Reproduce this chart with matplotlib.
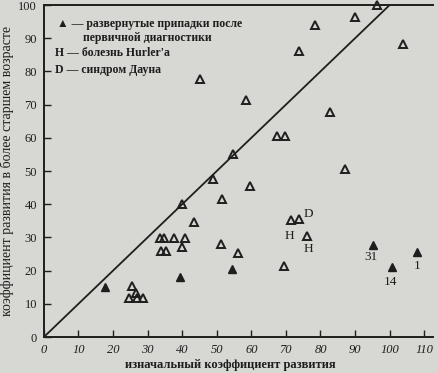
import matplotlib
matplotlib.use("Agg")
import matplotlib.pyplot as plt

# hollow triangles
open_x = [24.7, 26.5, 27.0, 28.6, 25.5, 33.5, 34.6, 37.5, 40.7, 34.0, 35.4, 39.8,
          40.0, 43.3, 51.2, 56.2, 48.9, 51.4, 54.7, 59.6, 45.1, 58.4, 67.3, 69.7,
          69.5, 71.4, 73.9, 76.2, 82.8, 87.1, 73.9, 78.4, 90.0, 96.3, 103.8]
open_y = [11.8, 13.2, 11.8, 11.8, 15.5, 29.8, 29.8, 29.8, 29.8, 26.0, 26.0, 27.2,
          40.0, 34.5, 28.1, 25.3, 47.6, 41.7, 55.0, 45.4, 77.6, 71.4, 60.5, 60.5,
          21.4, 35.1, 35.6, 30.3, 67.8, 50.7, 86.2, 94.0, 96.3, 100.0, 88.2]
# filled triangles: seizures after diagnosis
fill_x = [17.8, 39.3, 54.4, 95.3, 100.8, 107.9]
fill_y = [15.1, 18.2, 20.5, 27.6, 21.2, 25.6]

ann_text = ["D", "H", "H", "31", "14", "1"]
ann_x = [76.6, 71.1, 76.4, 94.7, 100.3, 107.9]
ann_y = [37.0, 30.3, 26.4, 24.0, 16.6, 21.4]

xticks = [0, 10, 20, 30, 40, 50, 60, 70, 80, 90, 100, 110]
yticks = [0, 10, 20, 30, 40, 50, 60, 70, 80, 90, 100]

bg = "#d7d7d3"
ink = "#1e1e1e"
serif = ["Liberation Serif", "DejaVu Serif"]

fig = plt.figure(figsize=(4.39, 3.73), dpi=100, facecolor=bg)
ax = fig.add_axes([0.100, 0.0965, 0.886, 0.890])
ax.set_facecolor(bg)

ax.plot([0, 100], [0, 100], color=ink, lw=1.3)
ax.plot(open_x, open_y, linestyle="none", marker="^", ms=6.3, mfc="none",
        mec=ink, mew=1.4, clip_on=False)
ax.plot(fill_x, fill_y, linestyle="none", marker="^", ms=6, mfc=ink,
        mec=ink, mew=1.0, clip_on=False)

for t, x, y in zip(ann_text, ann_x, ann_y):
    ax.text(x, y, t, ha="center", va="center", fontsize=9.5, color=ink,
            family=serif)

ax.set_xlim(0, 112.5)
ax.set_ylim(0, 100)
ax.set_xticks(xticks)
ax.set_yticks(yticks)
ax.set_xticklabels([str(v) for v in xticks], fontstyle="italic", family=serif,
                   fontsize=9)
ax.set_yticklabels([str(v) for v in yticks], family=serif, fontsize=9)
ax.tick_params(direction="in", length=5, width=1.0, colors=ink, pad=5)
for s in ["left", "bottom", "top"]:
    ax.spines[s].set_linewidth(1.4)
    ax.spines[s].set_color(ink)
ax.spines["right"].set_visible(False)

ax.set_xlabel("изначальный коэффициент развития", family=serif, fontsize=9,
              fontweight="bold", color=ink)
ax.xaxis.set_label_coords(0.478, -0.065)
ax.set_ylabel("коэффициент развития в более старшем возрасте", family=serif,
              fontsize=10, color=ink)
ax.yaxis.set_label_coords(-0.078, 0.5)

# legend block
def ftxt(px, py, s, **kw):
    fig.text(px / 439, 1 - py / 373, s, va="center", ha="left", fontsize=8.5,
             fontweight="bold", color=ink, family=serif, **kw)

ftxt(57, 24, "▲ — развернутые припадки после")
ftxt(83, 37.5, "первичной диагностики")
ftxt(55, 53, "H — болезнь Hurler'a")
ftxt(55, 70, "D — синдром Дауна")

fig.savefig("out.png", dpi=100, facecolor=bg)
